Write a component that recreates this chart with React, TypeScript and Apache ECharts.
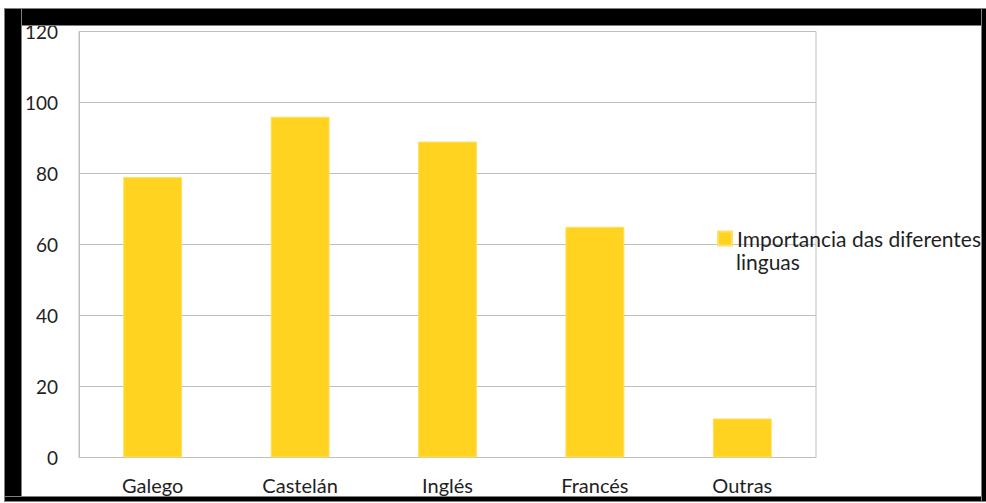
import React, { useEffect, useRef } from "react";
import * as echarts from "echarts";

const categories = ["Galego", "Castelán", "Inglés", "Francés", "Outras"];
const seriesName = "Importancia das diferentes linguas";
const values = [79, 96, 89, 65, 11];
const yTicks = { min: 0, max: 120, interval: 20 };

const FONT = "Lato";
const TEXT = "#1f1f1f";
const GRID_LINE = "#BFBFBF";

// black picture frame drawn around the chart: [left, top, width, height]
const frameBars: [number, number, number, number][] = [
  [5, 9, 981, 16],
  [5, 9, 16, 492],
  [5, 497, 981, 4],
  [982, 9, 4, 492],
];

export default function App() {
  const ref = useRef<HTMLDivElement>(null);

  useEffect(() => {
    if (!ref.current) return;
    const chart = echarts.init(ref.current, undefined, { renderer: "svg" });
    const [firstLine, secondLine] = ["Importancia das diferentes", "linguas"];

    chart.setOption({
      animation: false,
      textStyle: { fontFamily: FONT },
      grid: {
        left: 79,
        right: 170,
        top: 31.5,
        bottom: 45.5,
        show: true,
        borderColor: GRID_LINE,
        borderWidth: 1,
      },
      legend: {
        data: [seriesName],
        left: 717,
        top: 228,
        padding: 0,
        itemWidth: 14,
        itemHeight: 14,
        icon: "rect",
        formatter: () => firstLine,
        textStyle: { fontFamily: FONT, fontSize: 21, color: TEXT },
        selectedMode: false,
      },
      xAxis: {
        type: "category",
        data: categories,
        axisLine: { lineStyle: { color: GRID_LINE } },
        axisTick: { show: false },
        axisLabel: { fontFamily: FONT, fontSize: 20, color: TEXT, margin: 17 },
      },
      yAxis: {
        type: "value",
        min: yTicks.min,
        max: yTicks.max,
        interval: yTicks.interval,
        axisLine: { show: true, lineStyle: { color: GRID_LINE } },
        axisTick: { show: false },
        splitLine: { lineStyle: { color: GRID_LINE, width: 1 } },
        axisLabel: { fontFamily: FONT, fontSize: 19, color: TEXT, margin: 21 },
      },
      series: [
        {
          name: seriesName,
          type: "bar",
          data: values,
          barCategoryGap: "60%",
          itemStyle: { color: "#FFD320", borderColor: "#FFE066", borderWidth: 1 },
        },
      ],
      graphic: [
        {
          type: "text",
          left: 736,
          top: 251,
          style: { text: secondLine, font: `21px ${FONT}`, fill: TEXT },
        },
      ],
    });

    return () => chart.dispose();
  }, []);

  return (
    <div style={{ position: "absolute", left: 0, top: 0, width: 986, height: 503, background: "#fff" }}>
      <div ref={ref} style={{ position: "absolute", left: 0, top: 0, width: 986, height: 503 }} />
      {frameBars.map(([x, y, w, h], i) => (
        <div
          key={i}
          style={{
            position: "absolute",
            left: x,
            top: y,
            width: w,
            height: h,
            background: "#000",
            boxShadow: "0 0 0 1px #7f7f7f",
          }}
        />
      ))}
    </div>
  );
}
